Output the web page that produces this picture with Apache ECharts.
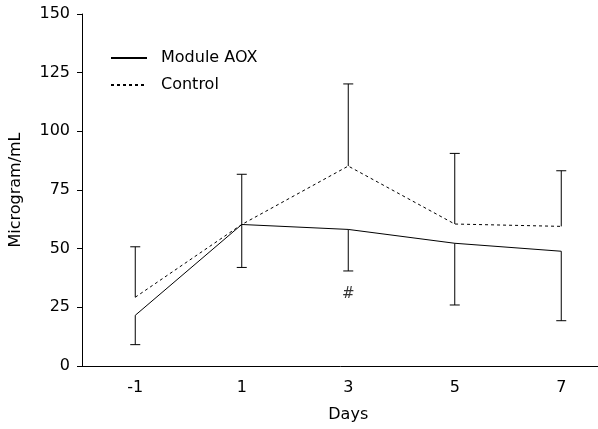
<!DOCTYPE html>
<html>
<head>
<meta charset="utf-8">
<script src="https://cdn.jsdelivr.net/npm/echarts@6/dist/echarts.min.js"></script>
<style>
  html, body { margin: 0; padding: 0; background: #fff; }
  #main { width: 598px; height: 429px; }
</style>
</head>
<body>
<div id="main"></div>
<script>
// data
var days = ['-1', '1', '3', '5', '7'];
var aoxMean = [21.6, 60.3, 58.2, 52.3, 48.9];
var aoxLow = [9.1, 42.0, 40.5, 26.0, 19.3];      // lower error bar ends
var ctrlMean = [29.3, 60.3, 85.2, 60.5, 59.5];
var ctrlHigh = [50.8, 81.7, 120.2, 90.6, 83.2];  // upper error bar ends
var markDay = '3';
var markValue = 30.5;

var font = 'DejaVu Sans';

// error bar rows: [category index, mean, bar end]
function barRows(mean, ends) {
  return mean.map(function (m, i) { return [i, m, ends[i]]; });
}

function renderBar(params, api) {
  var p0 = api.coord([api.value(0), api.value(1)]);
  var p1 = api.coord([api.value(0), api.value(2)]);
  var half = 5;
  var st = { stroke: '#000', lineWidth: 1 };
  return {
    type: 'group',
    children: [
      { type: 'line', shape: { x1: p0[0], y1: p0[1], x2: p1[0], y2: p1[1] }, style: st },
      { type: 'line', shape: { x1: p1[0] - half, y1: p1[1], x2: p1[0] + half, y2: p1[1] }, style: st }
    ]
  };
}

var chart = echarts.init(document.getElementById('main'));
chart.setOption({
  animation: false,
  textStyle: { fontFamily: font },
  // last band runs past the right edge, as in the figure
  grid: { left: 82, top: 14, bottom: 63, width: 532.5, outerBoundsMode: 'none', containLabel: false },
  legend: {
    data: ['Module AOX', 'Control'],
    orient: 'vertical',
    left: 105,
    top: 45,
    itemWidth: 36,
    itemHeight: 14,
    itemGap: 11,
    itemStyle: { opacity: 0 },
    textStyle: { fontSize: 16, color: '#000', fontFamily: font, padding: [0, 0, 0, 9] }
  },
  xAxis: {
    type: 'category',
    data: days,
    boundaryGap: true,
    name: 'Days',
    nameLocation: 'middle',
    nameGap: 41,
    nameTextStyle: { fontSize: 16, color: '#000', fontFamily: font },
    axisLine: { lineStyle: { color: '#000', width: 1 } },
    axisTick: { alignWithLabel: true, inside: true, length: 6, lineStyle: { color: '#000' } },
    axisLabel: { fontSize: 16, color: '#000', margin: 14, fontFamily: font },
    splitLine: { show: false }
  },
  yAxis: {
    type: 'value',
    min: 0,
    max: 150,
    interval: 25,
    name: 'Microgram/mL',
    nameLocation: 'middle',
    nameGap: 58,
    nameTextStyle: { fontSize: 16, color: '#000', fontFamily: font },
    axisLine: { show: true, lineStyle: { color: '#000', width: 1 } },
    axisTick: { show: true, length: 5, lineStyle: { color: '#000' } },
    axisLabel: { fontSize: 16, color: '#000', margin: 12, fontFamily: font },
    splitLine: { show: false }
  },
  series: [
    {
      name: 'Module AOX',
      type: 'line',
      data: aoxMean,
      symbol: 'none',
      lineStyle: { color: '#000', width: 1, type: 'solid' },
      itemStyle: { color: '#000' },
      z: 3
    },
    {
      name: 'Control',
      type: 'line',
      data: ctrlMean,
      symbol: 'none',
      lineStyle: { color: '#000', width: 1, type: [3, 3] },
      itemStyle: { color: '#000' },
      z: 3
    },
    {
      name: 'aoxErr',
      type: 'custom',
      data: barRows(aoxMean, aoxLow),
      renderItem: renderBar,
      encode: { x: 0, y: [1, 2] },
      silent: true,
      z: 2
    },
    {
      name: 'ctrlErr',
      type: 'custom',
      data: barRows(ctrlMean, ctrlHigh),
      renderItem: renderBar,
      encode: { x: 0, y: [1, 2] },
      silent: true,
      z: 2
    },
    {
      name: 'mark',
      type: 'scatter',
      data: [[markDay, markValue]],
      symbolSize: 1,
      itemStyle: { color: 'rgba(0,0,0,0)' },
      silent: true,
      label: {
        show: true,
        position: 'inside',
        formatter: '#',
        fontSize: 15,
        color: '#000',
        fontFamily: font
      }
    }
  ]
});
</script>
</body>
</html>
